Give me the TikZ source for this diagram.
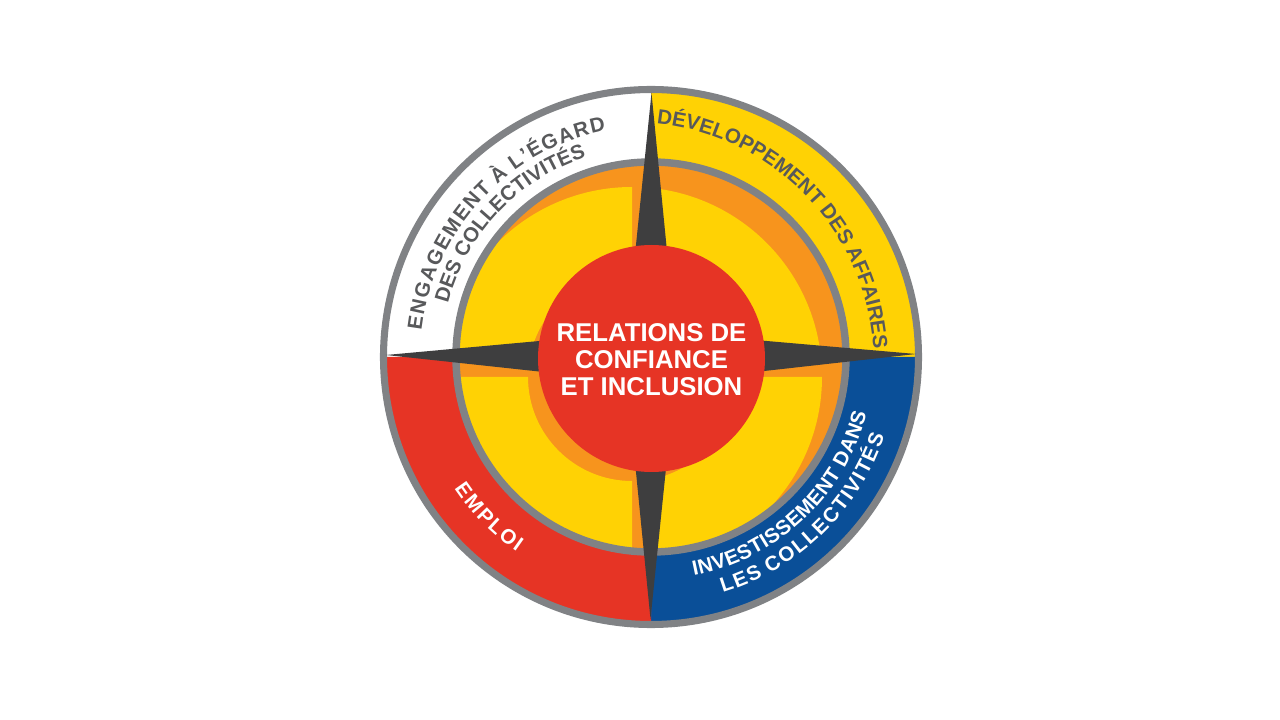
\documentclass[tikz,border=0pt]{standalone}
\usepackage{fontspec}
\setmainfont{Liberation Sans}
\usetikzlibrary{decorations.text}
\definecolor{cyel}{HTML}{FFD204}
\definecolor{corg}{HTML}{F7941D}
\definecolor{cred}{HTML}{E63425}
\definecolor{cblue}{HTML}{0A4F98}
\definecolor{cgray}{HTML}{808285}
\definecolor{cstar}{HTML}{3E3E3F}
\definecolor{ctext}{HTML}{58595B}
\newcommand\rft{\bfseries\fontsize{15.4}{18}\selectfont}
\newcommand\gA{\kern1.1pt}
\newcommand\gD{\kern0.3pt}
\newcommand\gE{\kern1.3pt}
\newcommand\gF{\kern1.65pt}
\begin{document}
\begin{tikzpicture}[x=0.75pt,y=0.75pt,
  ringline/.style={draw=cgray},
  ringtext/.style={decorate,decoration={text along path,text align=center,text color=#1}}]
\useasboundingbox (-651,-363) rectangle (629,357);
% outer quadrants
\fill[white] (0,0) -- (90:268) arc[start angle=90,end angle=180,radius=268] -- cycle;
\fill[cyel]  (0,0) -- (0:268) arc[start angle=0,end angle=90,radius=268] -- cycle;
\fill[cblue] (0,0) -- (270:268) arc[start angle=270,end angle=360,radius=268] -- cycle;
\fill[cred]  (0,0) -- (180:268) arc[start angle=180,end angle=270,radius=268] -- cycle;
% inner orange disk
\fill[corg] (0,0) circle[radius=192];
% yellow pieces
\foreach \a in {0,90,180,270}{
  \begin{scope}
    \clip (0,0) -- (\a:192) arc[start angle=\a,end angle=\a+90,radius=192] -- cycle;
    \fill[cyel,shift={(-19,-20)}] (\a:104) arc[start angle=\a,end angle=\a+90,radius=104]
      -- (\a+90:190) arc[start angle=\a+90,end angle=\a,radius=190] -- cycle;
  \end{scope}
}
% gray rings
\draw[ringline,line width=5.6pt] (0,0) circle[radius=195];
\draw[ringline,line width=5.3pt] (0,0) circle[radius=267.5];
% star
\fill[cstar] (0.5,264) -- (24,24) -- (265,3) -- (24,-24) -- (-0.5,-262)
  -- (-24,-24) -- (-265,2) -- (-24,24) -- cycle;
% center
\fill[cred] (0.5,-1.5) circle[radius=113.5];
\node[name=center,text=white,align=center,font=\bfseries\fontsize{19.3}{20.25}\selectfont]
  at (0.5,-3) {RELATIONS DE\\CONFIANCE\\ET INCLUSION};
% ring texts
\path[ringtext=ctext,decoration={text={|\rft|E{\gA}N{\gA}G{\gA}A{\gA}G{\gA}E{\gA}M{\gA}E{\gA}N{\gA}T{\gA} À{\gA} L{\gA}'{\gA}É{\gA}G{\gA}A{\gA}R{\gA}D}}]
  (197.25:231) arc[start angle=197.25,end angle=77.25,radius=231];
\path[ringtext=ctext,decoration={text={|\rft|DES COLLECTIVITÉS}}]
  (196.6:210) arc[start angle=196.6,end angle=76.6,radius=210];
\path[ringtext=ctext,shift={(-20,-8)},decoration={text={|\rft|DÉVELOPPEMENT DES AFFAIRES}}]
  (103.9:243) arc[start angle=103.9,end angle=-16.1,radius=243];
\path[ringtext=white,decoration={text={|\rft|I{\gD}N{\gD}V{\gD}E{\gD}S{\gD}T{\gD}I{\gD}S{\gD}S{\gD}E{\gD}M{\gD}E{\gD}N{\gD}T{\gD} D{\gD}A{\gD}N{\gD}S}}]
  (253.2:223) arc[start angle=253.2,end angle=373.2,radius=223];
\path[ringtext=white,decoration={text={|\rft|L{\gE}E{\gE}S{\gE} C{\gE}O{\gE}L{\gE}L{\gE}E{\gE}C{\gE}T{\gE}I{\gE}V{\gE}I{\gE}T{\gE}É{\gE}S}}]
  (254.1:246.5) arc[start angle=254.1,end angle=374.1,radius=246.5];
\path[ringtext=white,decoration={text={|\rft|E{\gF}M{\gF}P{\gF}L{\gF}O{\gF}I}}]
  (164.6:236.6) arc[start angle=164.6,end angle=284.6,radius=236.6];
\end{tikzpicture}
\end{document}
